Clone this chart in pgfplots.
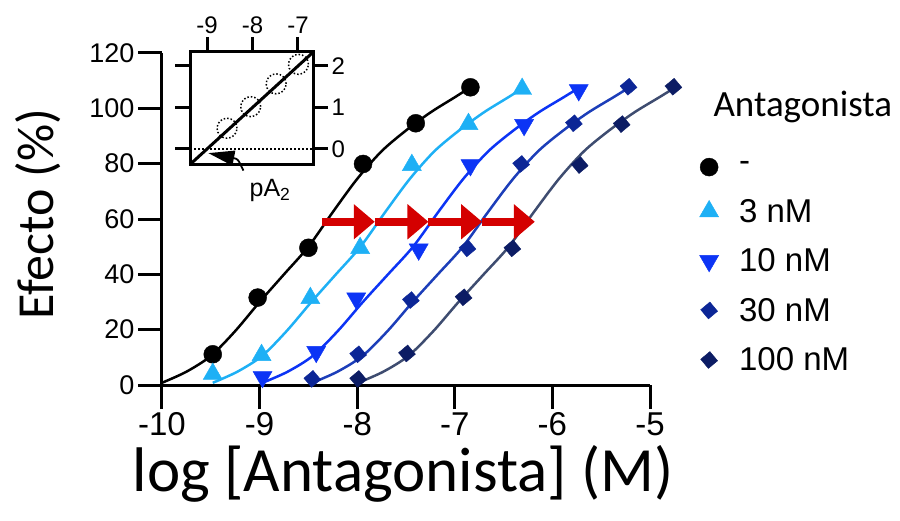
\documentclass[border=0pt]{standalone}
\usepackage{fontspec}
\setmainfont{Liberation Sans}
\newfontfamily\calibri{Carlito}
\usepackage{pgfplots}
\pgfplotsset{compat=1.18}
\usepackage{pgfplotstable}
\usetikzlibrary{arrows.meta}

\definecolor{c3}{RGB}{30,176,245}
\definecolor{c10}{RGB}{12,52,245}
\definecolor{c30m}{RGB}{12,38,150}
\definecolor{c30l}{RGB}{28,62,185}
\definecolor{c100m}{RGB}{12,28,100}
\definecolor{c100l}{RGB}{62,76,112}
\definecolor{arrowred}{RGB}{212,0,0}

% fitted curves
\pgfplotstableread{
x y
-10 0.8
-9.75 4.8
-9.5 10.5
-9.25 19.5
-9 30
-8.75 40
-8.5 50
-8.25 62.5
-8 74.5
-7.75 84.5
-7.5 92
-7.25 98.5
-7 104
-6.84 107.6
}\curvectl
\pgfplotstableread{
x y
-9.48 0.8
-9.228 4.8
-8.975 10.5
-8.723 19.5
-8.470 30
-8.218 40
-7.966 50
-7.713 62.5
-7.461 74.5
-7.209 84.5
-6.956 92
-6.704 98.5
-6.452 104
-6.29 107.6
}\curvethree
\pgfplotstableread{
x y
-8.97 0.8
-8.713 4.8
-8.456 10.5
-8.199 19.5
-7.942 30
-7.684 40
-7.427 50
-7.170 62.5
-6.913 74.5
-6.656 84.5
-6.399 92
-6.142 98.5
-5.885 104
-5.72 107.6
}\curveten
\pgfplotstableread{
x y
-8.46 0.8
-8.203 4.8
-7.946 10.5
-7.689 19.5
-7.432 30
-7.174 40
-6.917 50
-6.660 62.5
-6.403 74.5
-6.146 84.5
-5.889 92
-5.632 98.5
-5.375 104
-5.21 107.6
}\curvethirty
\pgfplotstableread{
x y
-7.99 0.8
-7.733 4.8
-7.476 10.5
-7.219 19.5
-6.962 30
-6.704 40
-6.447 50
-6.190 62.5
-5.933 74.5
-5.676 84.5
-5.419 92
-5.162 98.5
-4.905 104
-4.74 107.6
}\curvehundred

% measured points
\pgfplotstableread{
x y
-9.48 11.1
-9.02 31.6
-8.50 49.6
-7.94 79.9
-7.40 94.6
-6.84 107.6
}\ptsctl
\pgfplotstableread{
x y
-9.48 4.0
-8.98 10.8
-8.48 31.4
-7.97 49.5
-7.44 79.5
-6.86 94.3
-6.31 107.0
}\ptsthree
\pgfplotstableread{
x y
-8.97 2.9
-8.42 12.0
-8.01 31.3
-7.37 49.0
-6.84 79.5
-6.29 94.0
-5.73 106.6
}\ptsten
\pgfplotstableread{
x y
-8.46 2.2
-7.99 11.1
-7.45 30.7
-6.87 49.4
-6.32 79.9
-5.78 94.6
-5.22 107.8
}\ptsthirty
\pgfplotstableread{
x y
-7.99 2.2
-7.49 11.4
-6.91 31.7
-6.41 49.4
-5.72 79.5
-5.29 94.3
-4.76 107.8
}\ptshundred

\pgfplotsset{
  legmark/.style={legend image code/.code={%
    \path[draw=none, fill=none] (0pt,0pt) -- (44pt,0pt);
    \draw[##1] plot coordinates {(16pt,0pt)};}},
}

\begin{document}
\begin{tikzpicture}
\path[use as bounding box] (0pt,0pt) rectangle (900pt,520pt);

\begin{axis}[
  at={(162pt,135pt)}, anchor=south west,
  scale only axis, width=488pt, height=332pt,
  xmin=-10, xmax=-5, ymin=0, ymax=120,
  axis x line=bottom, axis y line=left,
  axis line style={line width=3pt, -},
  xtick={-10,-9,-8,-7,-6,-5}, ytick={0,20,40,60,80,100,120},
  tick align=outside, major tick length=24pt,
  tick style={line width=3pt, black},
  x tick label style={font=\fontsize{33}{36}\selectfont},
  y tick label style={font=\fontsize{27}{30}\selectfont},
  /pgf/number format/assume math mode=true,
  xlabel={log [Antagonista] (M)},
  xlabel style={font=\calibri\fontsize{63}{70}\selectfont,
    at={(axis description cs:0.494,-0.322)}, anchor=base},
  ylabel={Efecto (\%)},
  ylabel style={font=\calibri\fontsize{52}{56}\selectfont,
    at={(axis description cs:-0.223,0.515)}, anchor=base},
  clip=false,
  legend cell align=left,
  legend style={at={(axis description cs:1.088,0.684)}, anchor=north west,
    draw=none, fill=none, inner sep=0pt, row sep=21pt,
    font=\fontsize{33}{36}\selectfont},
]
\addplot[black, line width=2.5pt, smooth, forget plot] table {\curvectl};
\addplot[c3, line width=2.5pt, smooth, forget plot] table {\curvethree};
\addplot[c10, line width=2.5pt, smooth, forget plot] table {\curveten};
\addplot[c30l, line width=2.5pt, smooth, forget plot] table {\curvethirty};
\addplot[c100l, line width=2.5pt, smooth, forget plot] table {\curvehundred};

\addplot[only marks, mark=*, mark size=9pt, black, legmark] table {\ptsctl};
\addplot[only marks, mark=triangle*, mark size=11pt, c3, legmark] table {\ptsthree};
\addplot[only marks, mark=triangle*, mark size=11pt, c10, mark options={rotate=180}, legmark] table {\ptsten};
\addplot[only marks, mark=square*, mark size=6pt, c30m, mark options={rotate=40}, legmark] table {\ptsthirty};
\addplot[only marks, mark=square*, mark size=6pt, c100m, mark options={rotate=40}, legmark] table {\ptshundred};
\legend{-, 3 nM, 10 nM, 30 nM, 100 nM}

\draw[arrowred, line width=8pt, -{Triangle[length=21pt,width=34pt]}] (axis cs:-8.36,59) -- (axis cs:-7.82,59);
\draw[arrowred, line width=8pt, -{Triangle[length=21pt,width=34pt]}] (axis cs:-7.82,59) -- (axis cs:-7.27,59);
\draw[arrowred, line width=8pt, -{Triangle[length=21pt,width=34pt]}] (axis cs:-7.27,59) -- (axis cs:-6.72,59);
\draw[arrowred, line width=8pt, -{Triangle[length=21pt,width=34pt]}] (axis cs:-6.72,59) -- (axis cs:-6.18,59);

\node[anchor=base west, font=\calibri\fontsize{37}{40}\selectfont] at (axis cs:-4.385,96.9) {Antagonista};
\end{axis}

% Schild plot inset
\begin{axis}[
  at={(190pt,355pt)}, anchor=south west,
  scale only axis, width=123pt, height=113pt,
  xmin=-9.374, xmax=-6.67, ymin=-0.386, ymax=2.337,
  axis line style={line width=3pt},
  xtick={-9,-8,-7}, xtick pos=upper, xticklabel pos=upper,
  ytick={0,1,2}, ytick pos=both, yticklabel pos=upper,
  tick align=outside, major tick length=15pt,
  tick style={line width=3pt, black},
  tick label style={font=\fontsize{24}{26}\selectfont},
  /pgf/number format/assume math mode=true,
  clip=false,
]
\addplot[black, dotted, line width=2pt] coordinates {(-9.374,0) (-6.67,0)};
\addplot[black, line width=3pt] coordinates {(-9.374,-0.374) (-6.67,2.33)};
\addplot[only marks, mark=o, mark size=10pt, black, mark options={dotted, line width=1.5pt}] coordinates {
  (-8.56,0.5) (-8.04,1.02) (-7.48,1.57) (-6.99,2.04)};
\draw[line width=1.8pt, -{Triangle[length=26pt,width=15pt]}]
  (axis cs:-8.20,-0.52) .. controls (axis cs:-8.32,-0.24) .. (axis cs:-8.97,-0.1);
\node[anchor=base west, font=\fontsize{25}{28}\selectfont] at (axis cs:-8.14,-1.157) {pA\textsubscript{2}};
\end{axis}
\end{tikzpicture}
\end{document}
